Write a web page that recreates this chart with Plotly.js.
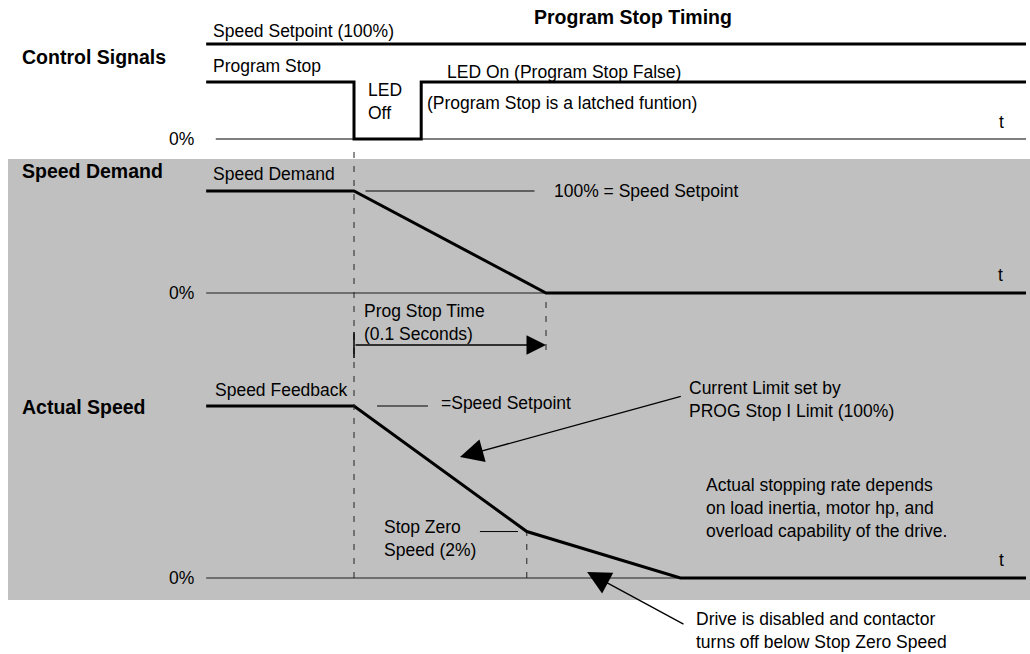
<!DOCTYPE html>
<html>
<head>
<meta charset="utf-8">
<script src="https://cdn.plot.ly/plotly-3.0.1.min.js"></script>
<style>
  html, body { margin: 0; padding: 0; background: #fff; }
  #chart { width: 1030px; height: 654px; }
</style>
</head>
<body>
<div id="chart"></div>
<script>
// time in seconds, stop command at t = 0
const stopT = 0;
const progStopTime = 0.1;
const ledOnT = 0.035;
const kneeT = 0.09;
const zeroT = 0.17;
const startT = -0.077;
const endT = 0.35;

// control signals
const setpointT = [startT, endT];
const setpointY = [100, 100];
const progStopT = [startT, stopT, stopT, ledOnT, ledOnT, endT];
const progStopY = [1, 1, 0, 0, 1, 1];

// speed demand (%)
const demandT = [startT, stopT, progStopTime, endT];
const demandY = [100, 100, 0, 0];

// actual speed (%)
const stopZeroSpeed = 27; // as drawn
const actualT = [startT, stopT, kneeT, zeroT, endT];
const actualY = [100, 100, stopZeroSpeed, 0, 0];

const W = 1030, H = 654;
const FONT = 'Liberation Sans, Arial, sans-serif';

// y axis whose 0 and full value land on given pixel rows
function yAx(zeroPy, fullPy, fullVal, topPy, botPy) {
  const k = fullVal / (zeroPy - fullPy);
  return {
    domain: [1 - botPy / H, 1 - topPy / H],
    range: [(zeroPy - botPy) * k, (zeroPy - topPy) * k],
    visible: false, fixedrange: true
  };
}

function line(x, y, axis, width, color) {
  return {
    x: x, y: y, yaxis: axis, type: 'scatter', mode: 'lines',
    line: { color: color || '#000', width: width },
    hoverinfo: 'skip', showlegend: false, cliponaxis: false
  };
}

const data = [
  line([startT + 0.005, endT], [0, 0], 'y2', 1.5, '#555'),
  line(setpointT, setpointY, 'y', 3),
  line(progStopT, progStopY, 'y2', 3),
  line([startT, endT], [0, 0], 'y3', 1.5, '#555'),
  line([0.006, 0.094], [100, 100], 'y3', 1),
  line(demandT, demandY, 'y3', 3),
  line([startT, endT], [0, 0], 'y4', 1.5, '#555'),
  line([0.012, 0.0385], [100, 100], 'y4', 1),
  line([0.0656, 0.0854], [stopZeroSpeed, stopZeroSpeed], 'y4', 1),
  line(actualT, actualY, 'y4', 3)
];

function txt(text, px, py, o) {
  return Object.assign({
    text: text, xref: 'paper', yref: 'paper', x: px / W, y: 1 - py / H,
    xanchor: 'left', yanchor: 'middle', align: 'left', showarrow: false,
    font: { family: FONT, size: 17.5, color: '#000' }
  }, o || {});
}
const bold = { family: FONT, size: 19.5, color: '#000', weight: 'bold' };
const pct = { xanchor: 'right' };

function vdash(t, topPy, botPy) {
  return {
    type: 'line', xref: 'x', yref: 'paper', x0: t, x1: t,
    y0: 1 - botPy / H, y1: 1 - topPy / H,
    line: { color: '#222', width: 1, dash: '6px,8px' }
  };
}

const annotations = [
  txt('<b>Program Stop Timing</b>', 532, 17, { font: bold }),
  txt('<b>Control Signals</b>', 20, 57, { font: bold }),
  txt('Speed Setpoint (100%)', 211, 31),
  txt('Program Stop', 211, 66),
  txt('LED<br>Off', 366, 102),
  txt('LED On (Program Stop False)', 445, 72),
  txt('(Program Stop is a latched funtion)', 425, 103),
  txt('t', 997, 122),
  txt('0%', 196, 139, pct),
  txt('<b>Speed Demand</b>', 20, 171, { font: bold }),
  txt('Speed Demand', 211, 174),
  txt('100% = Speed Setpoint', 552, 191),
  txt('t', 996, 275),
  txt('0%', 196, 293, pct),
  txt('Prog Stop Time<br>(0.1 Seconds)', 362, 322),
  txt('Speed Feedback', 213, 390),
  txt('<b>Actual Speed</b>', 20, 407, { font: bold }),
  txt('=Speed Setpoint', 439, 403),
  txt('Current Limit set by<br>PROG Stop I Limit (100%)', 687, 399),
  txt('Actual stopping rate depends<br>on load inertia, motor hp, and<br>overload capability of the drive.', 704, 508),
  txt('Stop Zero<br>Speed (2%)', 382, 538),
  txt('t', 997, 560),
  txt('0%', 196, 578, pct),
  txt('Drive is disabled and contactor<br>turns off below Stop Zero Speed', 694, 630),
  // prog stop time arrow
  {
    xref: 'x', yref: 'paper', x: stopT + progStopTime, y: 1 - 345 / H,
    axref: 'x', ayref: 'pixel', ax: stopT, ay: 0, text: '',
    showarrow: true, arrowhead: 2, arrowsize: 2.6, arrowwidth: 1.5, arrowcolor: '#000'
  },
  // callouts
  {
    xref: 'x', yref: 'paper', x: 0.0552, y: 1 - 457 / H,
    axref: 'x', ayref: 'pixel', ax: 0.171, ay: -61, text: '',
    showarrow: true, arrowhead: 2, arrowsize: 3.6, arrowwidth: 1.3, arrowcolor: '#000'
  },
  {
    xref: 'x', yref: 'paper', x: 0.1214, y: 1 - 572 / H,
    axref: 'x', ayref: 'pixel', ax: 0.1724, ay: 53, text: '',
    showarrow: true, arrowhead: 2, arrowsize: 3.6, arrowwidth: 1.3, arrowcolor: '#000'
  }
];

const shapes = [
  {
    type: 'rect', xref: 'paper', yref: 'paper', x0: 8 / W, x1: 1,
    y0: 1 - 600 / H, y1: 1 - 159 / H, fillcolor: '#c0c0c0',
    line: { width: 0 }, layer: 'below'
  },
  vdash(stopT, 150, 578),
  vdash(stopT + progStopTime, 295, 350),
  vdash(kneeT, 533, 578),
  {
    type: 'line', xref: 'x', yref: 'paper', x0: stopT, x1: stopT,
    y0: 1 - 358 / H, y1: 1 - 332 / H, line: { color: '#000', width: 1.5 }
  }
];

const layout = {
  width: W, height: H,
  margin: { l: 0, r: 0, t: 0, b: 0 },
  paper_bgcolor: '#fff', plot_bgcolor: 'rgba(0,0,0,0)',
  showlegend: false,
  xaxis: { range: [-354 / 1920, 676 / 1920], domain: [0, 1], visible: false, fixedrange: true },
  yaxis: yAx(139, 44, 100, 20, 150),
  yaxis2: Object.assign(yAx(139, 82, 1, 20, 150), { overlaying: 'y' }),
  yaxis3: yAx(293, 191, 100, 150, 360),
  yaxis4: yAx(578, 406, 100, 360, 600),
  shapes: shapes,
  annotations: annotations
};

Plotly.newPlot('chart', data, layout, { staticPlot: true });
</script>
</body>
</html>
